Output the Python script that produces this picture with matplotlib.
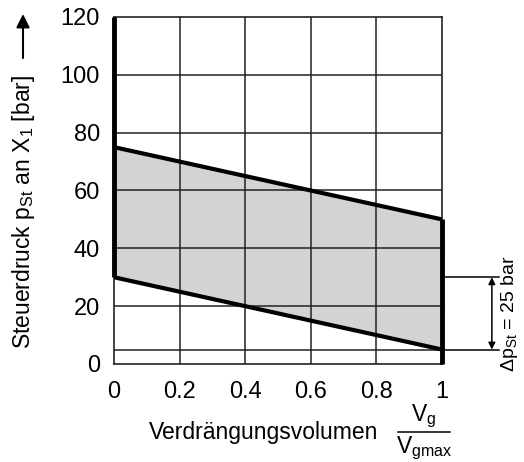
import matplotlib
matplotlib.use("Agg")
import matplotlib.pyplot as plt
from matplotlib.lines import Line2D
from matplotlib.patches import FancyArrowPatch

plt.rcParams['font.family'] = ['Liberation Sans', 'DejaVu Sans']
plt.rcParams['mathtext.fontset'] = 'custom'
plt.rcParams['mathtext.rm'] = 'Liberation Sans'
plt.rcParams['mathtext.it'] = 'Liberation Sans'

# data
x_edges = [0, 1]
upper = [75, 50]
lower = [30, 5]
xticks = [0, 0.2, 0.4, 0.6, 0.8, 1]
xticklabels = ['0', '0.2', '0.4', '0.6', '0.8', '1']
yticks = [0, 20, 40, 60, 80, 100, 120]
ygrid = [5, 20, 40, 60, 80, 100]
delta_range = [5, 30]
delta_text = r'$\Delta$p$_\mathregular{St}$ = 25 bar'

W, H = 524, 462
fig = plt.figure(figsize=(W / 100, H / 100), dpi=100)
ax = fig.add_axes([114 / W, 1 - 364 / H, 328 / W, 347 / H])
ax.set_xlim(0, 1)
ax.set_ylim(0, 120)

gc = '#222222'
for s in ax.spines.values():
    s.set_color(gc)
    s.set_linewidth(1.2)
for yv in ygrid:
    ax.axhline(yv, color=gc, lw=1.1, zorder=1)
for xv in xticks[1:-1]:
    ax.axvline(xv, color=gc, lw=1.1, zorder=1)

ax.fill([x_edges[0], x_edges[0], x_edges[1], x_edges[1]],
        [lower[0], upper[0], upper[1], lower[1]],
        color='#d3d3d3', zorder=0.5, lw=0)
ax.plot(x_edges, upper, color='black', lw=3, zorder=3, solid_capstyle='butt')
ax.plot(x_edges, lower, color='black', lw=3, zorder=3, solid_capstyle='butt')
ax.plot([0, 0], [lower[0], 120], color='black', lw=3.5, zorder=3, solid_capstyle='butt', clip_on=False)
ax.plot([1, 1], [0, upper[1]], color='black', lw=3.5, zorder=3, solid_capstyle='butt', clip_on=False)

ax.set_xticks(xticks)
ax.set_xticklabels(xticklabels)
ax.set_yticks(yticks)
ax.tick_params(length=0, labelsize=17)
ax.tick_params(axis='x', pad=12)
ax.tick_params(axis='y', pad=10)

# delta annotation
for yv in delta_range:
    ax.plot([1, 1.174], [yv, yv], color='black', lw=1.1, clip_on=False)
ax.add_patch(FancyArrowPatch((1.152, delta_range[0]), (1.152, delta_range[1]),
                             arrowstyle='<|-|>', mutation_scale=10, color='black',
                             lw=1.1, clip_on=False, shrinkA=0, shrinkB=0))
ax.text(1.205, 17.5, delta_text, rotation=90, ha='center', va='center',
        fontsize=14, clip_on=False)

# y label + arrow
fig.text(24 / W, 1 - 212 / H, r'Steuerdruck p$_\mathregular{St}$ an X$_\mathregular{1}$ [bar]',
         rotation=90, ha='center', va='center', fontsize=16.5)
fig.add_artist(FancyArrowPatch((23 / W, 1 - 58 / H), (23 / W, 1 - 14 / H),
                               transform=fig.transFigure, arrowstyle='-|>',
                               mutation_scale=20, color='black', lw=1.5,
                               shrinkA=0, shrinkB=0))

# x label with fraction
fig.text(264 / W, 1 - 433 / H, 'Verdrängungsvolumen', ha='center', va='center', fontsize=16.5)
fig.text(424 / W, 1 - 416 / H, r'V$_\mathregular{g}$', ha='center', va='center', fontsize=16.5)
fig.text(424 / W, 1 - 448 / H, r'V$_\mathregular{gmax}$', ha='center', va='center', fontsize=16.5)
fig.add_artist(Line2D([398 / W, 450 / W], [1 - 432 / H, 1 - 432 / H],
                      transform=fig.transFigure, color='black', lw=1.1))

fig.savefig('out.png', dpi=100)
